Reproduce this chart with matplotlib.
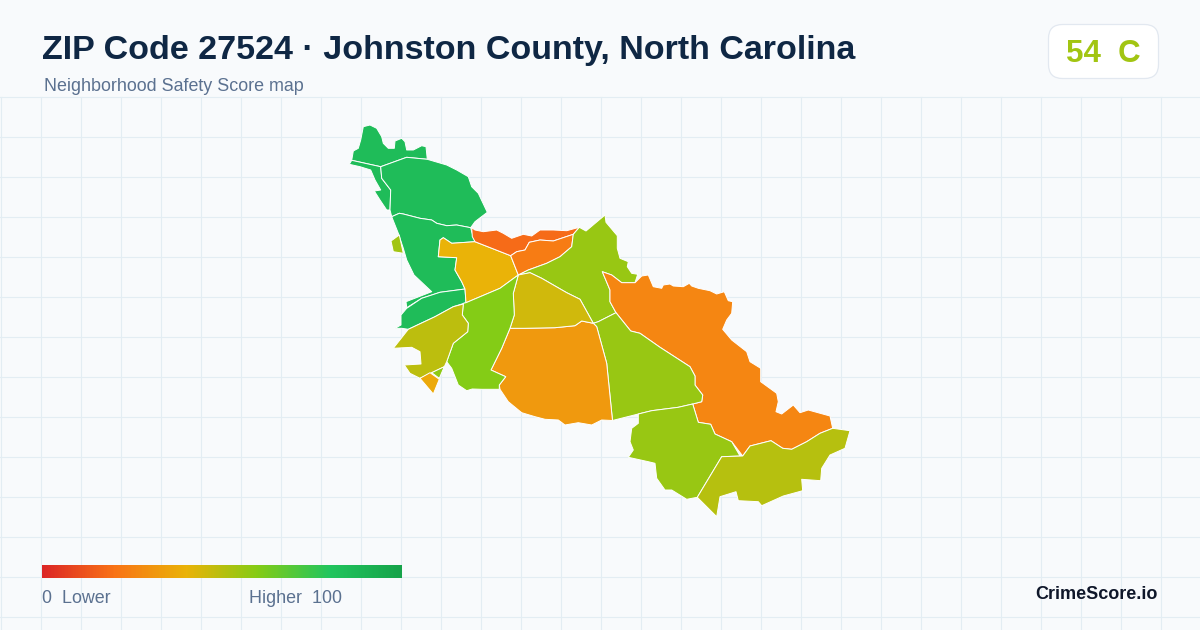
import matplotlib
matplotlib.use("Agg")
import matplotlib.pyplot as plt
import numpy as np
from matplotlib.colors import LinearSegmentedColormap
from matplotlib.patches import Polygon, FancyBboxPatch

plt.rcParams['font.family'] = ['Liberation Sans', 'DejaVu Sans']

title = "ZIP Code 27524 \u00b7 Johnston County, North Carolina"
subtitle = "Neighborhood Safety Score map"
overall_score = 54
overall_grade = "C"
brand = "CrimeScore.io"
ramp_colors = ['#dc2626', '#f97316', '#eab308', '#84cc16', '#22c55e', '#16a34a']

north = [(351.7,160.3),(353.3,151),(358.3,148.3),(360.7,140),(363.3,126.7),(370,125),(376.7,128.3),(381.7,136.7),(383.3,143.3),(388.3,148.3),(394.3,148.3),(395,141),(401.7,138.3),(405,141.7),(406.7,150),(413.3,150),(421.7,145.7),(426,146.7),(427.3,159.3),(406.7,157.3),(380.7,166.7),(368.3,164)]
strip_w = [(349.3,164.3),(351.7,160.3),(368.3,164),(380.7,166.7),(381.7,178.3),(390.7,190),(390,210),(386.7,210),(380,200),(374.3,191),(380.7,190),(375,180),(370.7,170),(360,166.7)]
north_big = [(380.7,166.7),(406.7,157.3),(427.3,159.3),(446.7,165),(456.7,170),(468.3,176.7),(471.7,186.7),(478.3,193.3),(487.3,212.3),(475,221.7),(470.7,227.7),(456.7,225),(446.7,225.7),(436.7,223.3),(431.7,220),(420,218.3),(403.3,214),(399.3,213.3),(391.7,216.7),(390,210),(390.7,190),(381.7,178.3)]
west = [(391.7,216.7),(399.3,213.3),(403.3,214),(420,218.3),(431.7,220),(436.7,223.3),(446.7,225.7),(456.7,225),(470.7,227.7),(471.7,231.7),(475,241.7),(451.7,243.3),(443.3,237.7),(440,240),(438.3,256.7),(456.7,257.7),(455,270),(461.7,281.7),(465,289),(440,292.3),(421.7,298.3),(406.7,307.7),(406,301.7),(431.7,291.7),(414,275),(406.7,260),(403.3,248.3),(398.3,233.3)]
west_band = [(406.7,308.3),(421.7,298.3),(440,292.3),(465,289),(466,302.7),(453.3,306.7),(435,316.7),(408.3,329.3),(401.7,328.3),(395,328.3),(401,325),(401,315)]
fragment = [(391,241),(399.3,235),(403.3,253.3),(393.3,251.7)]
yellow = [(475,241.7),(510.7,255.7),(518.3,275),(500,288.3),(466,302.7),(465,289),(461.7,281.7),(455,270),(456.7,257.7),(438.3,256.7),(440,240),(443.3,237.7),(451.7,243.3)]
red_strip = [(471.7,227.7),(475,230),(483.3,231.7),(496.7,230),(503.3,233.3),(511.7,238.3),(523.3,234.3),(531.7,236),(540,230),(553.3,230),(566.7,230.7),(579.3,227.3),(573.3,234.3),(553.3,241),(540,240),(529.3,242.3),(525,250),(516.7,251.7),(510.7,255.7),(475,241.7),(472.3,236.7)]
orange_n = [(510.7,255.7),(516.7,251.7),(525,250),(529.3,242.3),(540,240),(553.3,241),(573.3,234.3),(571.7,246.7),(560,256.7),(546.7,263.3),(528.3,270),(518.3,275)]
lime_ne = [(528.3,270),(546.7,263.3),(560,256.7),(571.7,246.7),(573.3,234.3),(579.3,227.3),(586,231),(605,215),(606,222.3),(617.3,235.7),(617.3,248.3),(620,258.3),(628.3,261.7),(627.3,266.7),(631.7,273.3),(637.7,274.3),(635,282.7),(621.7,282.7),(611.7,275),(602.3,271.7),(610,290),(610,301.7),(616,312.7),(598.3,321.7),(593.3,323.3),(580,299.3),(566.7,292.7),(541.7,278.3),(530,272.7),(518.3,275)]
east = [(602.3,271.7),(611.7,275),(621.7,282.7),(635,282.7),(641.7,276),(648.3,275),(653.3,286.7),(661.7,288.3),(663.3,285),(670,284),(673.3,286),(683.3,286.7),(689.3,283.3),(691.7,286),(698.3,288.3),(710,290.7),(716.7,294),(724.3,291.7),(728.3,300.7),(732.7,301.7),(731.7,313.3),(726.7,320),(722.7,329.3),(731.7,340),(746.7,351.7),(750,361.7),(760.7,368.3),(760.7,381.7),(776.7,393.3),(778.3,401.7),(776,411.7),(781.7,414),(793.3,405),(800,412.7),(808.3,410),(830,416),(832.7,428.3),(820,433.3),(806.7,441.7),(791.7,449.3),(782.7,448.3),(771,440.7),(750,446),(742.7,456),(731.7,441.7),(715,434),(710.7,424.3),(698.3,422.3),(692.7,404),(701.7,401.7),(702.7,395),(695,385),(695,376),(690,366.7),(660,347.3),(640,333.3),(630.7,331),(616,312.7),(610,301.7),(610,290)]
green_mid = [(616,312.7),(630.7,331),(640,333.3),(660,347.3),(690,366.7),(695,376),(695,385),(702.7,395),(701.7,401.7),(692.7,404),(678.3,407.3),(651.7,410.7),(638.3,414),(612.5,420.5),(606.7,363.3),(596.7,326.7),(593.3,323.3),(598.3,321.7)]
south_green = [(638.3,414),(651.7,410.7),(678.3,407.3),(692.7,404),(698.3,422.3),(710.7,424.3),(715,434),(731.7,441.7),(740,456),(721.7,456.7),(697.3,497.3),(686.7,499.3),(671.7,490),(665,490),(656.7,478.3),(655,463.3),(648.3,461.7),(628.3,457.3),(633.3,450),(630,441.7),(631.7,428.3),(638.3,423.3)]
southeast = [(721.7,456.7),(742.7,456),(750,446),(771,440.7),(782.7,448.3),(791.7,449.3),(806.7,441.7),(820,433.3),(832.7,428.3),(850,430.7),(845,448.3),(830,455),(821.7,468.3),(820.7,480.7),(801.7,479.3),(802.7,490.7),(783.3,496),(761.7,505.7),(758.3,501.7),(738.3,500.7),(736,491.7),(720,496.7),(716.7,516.7),(697.3,497.3)]
center_south = [(510,328.3),(525,328.3),(555,327.7),(575,325.7),(581.7,321),(593.3,323.3),(596.7,326.7),(606.7,363.3),(612.5,420.5),(601.7,420),(591.7,425),(578.3,422.7),(565,425),(558.3,420),(545,419.3),(535,416.7),(521.7,412.7),(508.3,401.7),(500,389.3),(499.3,385),(505.7,376.7),(491,370),(501.7,348.3)]
center_olive = [(518.3,275),(530,272.7),(541.7,278.3),(566.7,292.7),(580,299.3),(593.3,323.3),(581.7,321),(575,325.7),(555,327.7),(525,328.3),(510,328.3),(514.3,315),(513.3,293.3)]
lime_c = [(518.3,275),(513.3,293.3),(514.3,315),(510,328.3),(501.7,348.3),(491,370),(505.7,376.7),(499.3,385),(499.3,389.3),(481.7,389.3),(472.3,389),(466.7,390.7),(458.3,385),(451.7,368.3),(446.7,361.7),(453.3,343.3),(467.7,331.7),(468.3,323.3),(462.3,315),(463.3,303.3),(466,302.7),(500,288.3)]
southwest = [(463.3,304),(462.3,315),(468.3,323.3),(467.7,331.7),(453.3,343.3),(446.7,361.7),(444.3,366.7),(431.7,372.7),(420,378.3),(410,373.3),(404.3,365),(421,364),(420,351.7),(411.7,347.3),(393.3,348.3),(408.3,329.3),(435,316.7),(453.3,306.7)]
sw_orange = [(420,378.3),(430,372.7),(439.3,379.3),(433.3,394)]
sw_lime = [(431.7,372.7),(444.3,366.7),(439.3,378.3)]

region_shapes = [north, strip_w, north_big, west, west_band, fragment, yellow, red_strip, orange_n,
                 lime_ne, east, green_mid, south_green, southeast, center_south, center_olive,
                 lime_c, southwest, sw_orange, sw_lime]
region_scores = [85, 85, 85, 85, 85, 54, 40, 18, 23,
                 56, 26, 56, 56, 50, 32, 45,
                 60, 49, 37, 58]

cmap = LinearSegmentedColormap.from_list("score", ramp_colors)

fig = plt.figure(figsize=(12, 6.3), dpi=100, facecolor='#f8fafc')
ax = fig.add_axes([0, 0, 1, 1])
ax.set_xlim(0, 1200)
ax.set_ylim(630, 0)
ax.axis('off')

grid_color = '#e3edf3'
for x in np.arange(0.5, 1200, 40):
    ax.plot([x, x], [96.5, 630], color=grid_color, lw=0.8, zorder=1)
for y in np.arange(96.5, 630, 40):
    ax.plot([0, 1200], [y, y], color=grid_color, lw=0.8, zorder=1)

for shape, score in zip(region_shapes, region_scores):
    ax.add_patch(Polygon(shape, closed=True, facecolor=cmap(score / 100), edgecolor='white',
                         lw=0.7, joinstyle='round', zorder=3))

ax.text(42, 59, title, fontsize=24.5, fontweight='bold', color='#0f2744', va='baseline', ha='left', zorder=5)
ax.text(44, 91, subtitle, fontsize=12.9, color='#5b7190', va='baseline', ha='left', zorder=5)

ax.add_patch(FancyBboxPatch((1048.5, 24.5), 110, 54, boxstyle="round,pad=0,rounding_size=14",
                            facecolor='white', edgecolor='#e2e8f0', lw=0.9, zorder=4))
ax.text(1103, 62, f"{overall_score}  {overall_grade}", fontsize=22.5, fontweight='bold',
        color=cmap(overall_score / 100), va='baseline', ha='center', zorder=5)

gradient = np.linspace(0, 1, 360).reshape(1, -1)
ax.imshow(gradient, cmap=cmap, extent=(42, 402, 578, 565), aspect='auto', zorder=4)
ax.set_xlim(0, 1200)
ax.set_ylim(630, 0)
ax.text(42, 603, "0  Lower", fontsize=12.9, color='#5b7190', va='baseline', ha='left', zorder=5)
ax.text(249, 603, "Higher  100", fontsize=12.9, color='#5b7190', va='baseline', ha='left', zorder=5)
ax.text(1158, 599, brand, fontsize=13, fontweight='bold', color='#0f172a', va='baseline', ha='right', zorder=5)

fig.savefig("out.png", dpi=100, facecolor=fig.get_facecolor())
